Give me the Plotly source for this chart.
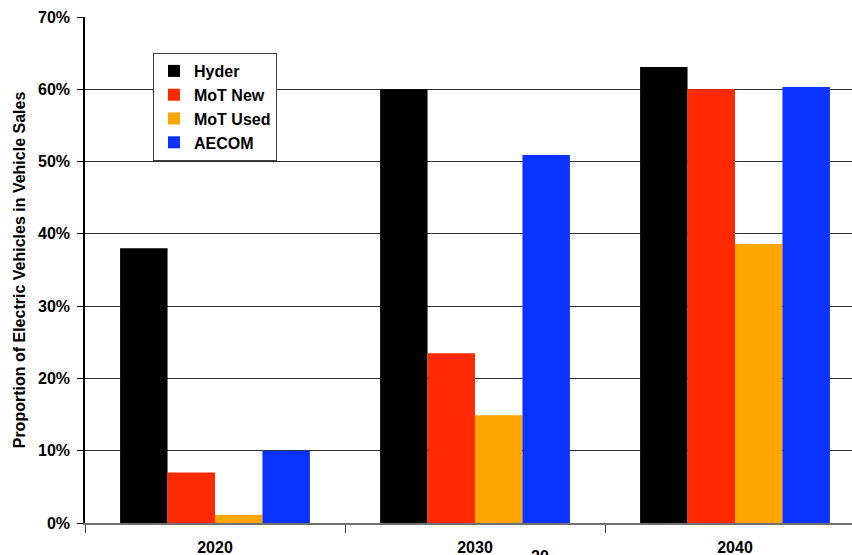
import plotly.graph_objects as go

years = ["2020", "2030", "2040"]
hyder = [38.0, 60.0, 63.1]
mot_new = [7.0, 23.5, 60.0]
mot_used = [1.1, 14.9, 38.6]
aecom = [10.0, 50.9, 60.3]

series_names = ["Hyder", "MoT New", "MoT Used", "AECOM"]
series_vals = [hyder, mot_new, mot_used, aecom]
colors = ["#000000", "#FF2A00", "#FFA500", "#0A32FF"]

fig = go.Figure()
for i, (name, vals, c) in enumerate(zip(series_names, series_vals, colors)):
    fig.add_trace(go.Bar(
        x=years, y=vals, name=name, marker=dict(color=c, line=dict(width=0)),
        legendgroup=name,
    ))

font_family = "Liberation Sans, Arial, sans-serif"
fig.update_layout(
    width=852, height=555,
    margin=dict(l=85, r=0, t=17, b=32),
    paper_bgcolor="white", plot_bgcolor="white",
    barmode="group", bargap=0.27, bargroupgap=0,
    font=dict(family=font_family, size=16, color="black"),
    legend=dict(
        x=(153 - 85) / 767, y=1 - (53 - 17) / 506, xanchor="left", yanchor="top",
        bordercolor="#404040", borderwidth=1, bgcolor="white",
        font=dict(size=16, family=font_family, weight="bold"),
        tracegroupgap=13, traceorder="normal",
    ),
    xaxis=dict(
        type="category", range=[-0.5, 2.45],
        tickson="boundaries", ticks="outside", ticklen=8, tickcolor="#404040",
        showline=True, linecolor="#707070", linewidth=1.5,
        tickfont=dict(size=16, family=font_family, weight="bold"),
        ticklabelstandoff=9, showgrid=False,
    ),
    yaxis=dict(
        range=[0, 70], dtick=10, ticksuffix="%",
        ticks="outside", ticklen=6, tickcolor="black",
        showline=True, linecolor="black", linewidth=1.5,
        showgrid=True, gridcolor="#303030", gridwidth=1.3,
        tickfont=dict(size=16, family=font_family, weight="bold"),
        ticklabelstandoff=4,
        title=dict(text="Proportion of Electric Vehicles in Vehicle Sales",
                   font=dict(size=16, family=font_family, weight="bold"), standoff=8),
        zeroline=False,
    ),
)

fig.add_annotation(
    text="20", xref="paper", yref="paper", x=(540 - 85) / 767, y=-(546 - 523) / 506,
    xanchor="center", yanchor="top", showarrow=False,
    font=dict(size=16, family=font_family, weight="bold"),
)

fig.write_html(
    "out.html",
    config={"displayModeBar": False},
    post_script="document.body.style.margin='0';document.body.style.overflow='hidden';",
)
